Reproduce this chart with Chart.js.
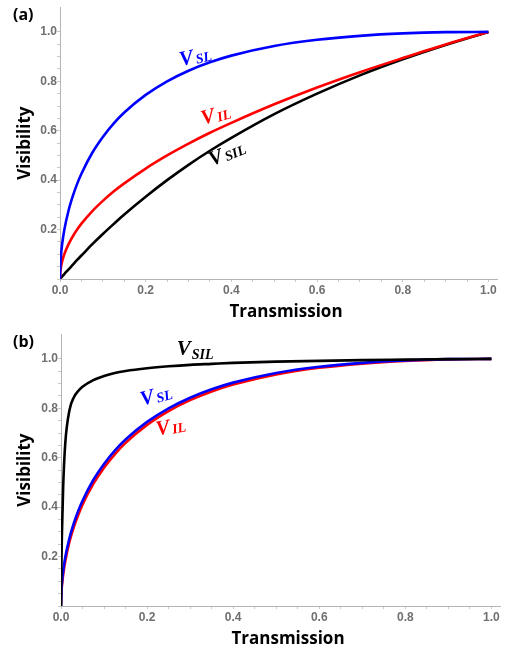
<!DOCTYPE html>
<html>
<head>
<meta charset="utf-8">
<script src="https://cdn.jsdelivr.net/npm/chart.js@4.4.1/dist/chart.umd.min.js"></script>
<style>
  body { margin: 0; background: #fff; }
  .panel { width: 516px; height: 327px; position: relative; }
</style>
</head>
<body>
<div class="panel"><canvas id="chartA"></canvas></div>
<div class="panel"><canvas id="chartB"></canvas></div>
<script>
// transmission samples (x) shared by all curves
const transmission = [0, 0.001, 0.002, 0.005, 0.01, 0.02, 0.03, 0.04, 0.05, 0.075, 0.1, 0.125, 0.15, 0.2, 0.25, 0.3, 0.35, 0.4, 0.5, 0.6, 0.7, 0.8, 0.9, 1.0];

// panel (a)
const visSL_a  = [0, 0.063, 0.089, 0.141, 0.198, 0.277, 0.336, 0.385, 0.426, 0.510, 0.575, 0.629, 0.674, 0.745, 0.800, 0.843, 0.877, 0.904, 0.943, 0.968, 0.984, 0.994, 0.999, 1.0];
const visIL_a  = [0, 0.032, 0.045, 0.071, 0.100, 0.141, 0.173, 0.200, 0.224, 0.274, 0.316, 0.354, 0.387, 0.447, 0.500, 0.548, 0.592, 0.632, 0.707, 0.775, 0.837, 0.894, 0.949, 1.0];
const visSIL_a = [0, 0.002, 0.004, 0.010, 0.020, 0.039, 0.058, 0.077, 0.095, 0.140, 0.182, 0.222, 0.261, 0.333, 0.400, 0.462, 0.519, 0.571, 0.667, 0.750, 0.824, 0.889, 0.947, 1.0];

// panel (b)
const visSL_b  = [0, 0.063, 0.089, 0.141, 0.198, 0.277, 0.336, 0.385, 0.426, 0.510, 0.575, 0.629, 0.674, 0.745, 0.800, 0.843, 0.877, 0.904, 0.943, 0.968, 0.984, 0.994, 0.999, 1.0];
const visIL_b  = [0, 0.055, 0.078, 0.126, 0.182, 0.262, 0.320, 0.368, 0.410, 0.494, 0.560, 0.614, 0.660, 0.733, 0.789, 0.833, 0.868, 0.896, 0.937, 0.964, 0.981, 0.992, 0.998, 1.0];
const visSIL_b = [0, 0.170, 0.280, 0.480, 0.660, 0.795, 0.845, 0.870, 0.887, 0.914, 0.931, 0.943, 0.951, 0.962, 0.970, 0.976, 0.980, 0.984, 0.989, 0.992, 0.995, 0.997, 0.999, 1.0];

// ticks
const xTickValues = [0, 0.05, 0.1, 0.15, 0.2, 0.25, 0.3, 0.35, 0.4, 0.45, 0.5, 0.55, 0.6, 0.65, 0.7, 0.75, 0.8, 0.85, 0.9, 0.95, 1.0];
const yTickValues = [0, 0.05, 0.1, 0.15, 0.2, 0.25, 0.3, 0.35, 0.4, 0.45, 0.5, 0.55, 0.6, 0.65, 0.7, 0.75, 0.8, 0.85, 0.9, 0.95, 1.0];
const xTickLabels = ["0.0", "0.2", "0.4", "0.6", "0.8", "1.0"];
const yTickLabels = ["0.2", "0.4", "0.6", "0.8", "1.0"];

function toPoints(ys) {
    return transmission.map((t, i) => ({ x: t, y: ys[i] }));
}

function line(label, ys, color) {
    return {
        label: label,
        data: toPoints(ys),
        borderColor: color,
        borderWidth: 2.6,
        pointRadius: 0,
        showLine: true,
        fill: false,
        cubicInterpolationMode: "monotone"
    };
}

function tickText(value, labels) {
    const s = value.toFixed(1);
    return (labels.includes(s) && Math.abs(value * 5 - Math.round(value * 5)) < 1e-6) ? s : "";
}

// draws panel letter, axis titles and the curve labels
const decorations = {
    id: "decorations",
    afterDraw(chart, args, opts) {
        const ctx = chart.ctx;
        const xs = chart.scales.x, ys = chart.scales.y;
        ctx.save();
        ctx.fillStyle = "#000";
        ctx.font = "bold 16px 'Open Sans'";
        ctx.textBaseline = "middle";
        ctx.textAlign = "left";
        ctx.fillText(opts.panel, 13, 15);

        ctx.font = "bold 17px 'Open Sans'";
        ctx.textAlign = "center";
        ctx.fillText("Transmission", opts.xTitle[0], opts.xTitle[1]);
        ctx.save();
        ctx.translate(25, (chart.chartArea.top + chart.chartArea.bottom) / 2);
        ctx.rotate(-Math.PI / 2);
        ctx.fillText("Visibility", 0, 0);
        ctx.restore();

        opts.curves.forEach(c => {
            ctx.save();
            ctx.translate(xs.getPixelForValue(c.x), ys.getPixelForValue(c.y));
            ctx.rotate(c.angle * Math.PI / 180);
            ctx.fillStyle = c.color;
            ctx.textAlign = "left";
            ctx.textBaseline = "alphabetic";
            ctx.font = "bold italic 21px 'Liberation Serif'";
            ctx.fillText("V", 0, 0);
            const w = ctx.measureText("V").width;
            ctx.font = "bold italic 14px 'Liberation Serif'";
            ctx.fillText(c.sub, w + c.gap, c.drop);
            ctx.restore();
        });
        ctx.restore();
    }
};

function makeChart(id, datasets, yWidth, rightPad, topPad, deco) {
    return new Chart(document.getElementById(id).getContext("2d"), {
        type: "scatter",
        data: { datasets: datasets },
        options: {
            responsive: true,
            maintainAspectRatio: false,
            animation: false,
            layout: { padding: { left: 0, right: rightPad, top: topPad, bottom: 0 } },
            plugins: {
                legend: { display: false },
                tooltip: { enabled: false },
                decorations: deco
            },
            scales: {
                x: {
                    type: "linear",
                    min: 0,
                    max: 1.02,
                    afterBuildTicks: s => { s.ticks = xTickValues.map(v => ({ value: v })); },
                    afterFit: s => { s.height = 48; },
                    border: { color: "#b4b4b4", width: 1 },
                    grid: { drawOnChartArea: false, tickLength: 3, tickColor: "#c8c8c8" },
                    ticks: {
                        autoSkip: false,
                        maxRotation: 0,
                        padding: 1,
                        color: "#707070",
                        font: { family: "'Liberation Sans'", size: 12, weight: "bold" },
                        callback: v => tickText(v, xTickLabels)
                    }
                },
                y: {
                    type: "linear",
                    min: 0,
                    max: 1.1,
                    afterBuildTicks: s => { s.ticks = yTickValues.map(v => ({ value: v })); },
                    afterFit: s => { s.width = yWidth; },
                    border: { color: "#b4b4b4", width: 1 },
                    grid: { drawOnChartArea: false, tickLength: 3, tickColor: "#c8c8c8" },
                    ticks: {
                        autoSkip: false,
                        padding: 0,
                        color: "#707070",
                        font: { family: "'Liberation Sans'", size: 12, weight: "bold" },
                        callback: v => tickText(v, yTickLabels)
                    }
                }
            }
        },
        plugins: [decorations]
    });
}

makeChart("chartA", [
    line("V_SL", visSL_a, "#0000ff"),
    line("V_IL", visIL_a, "#ff0000"),
    line("V_SIL", visSIL_a, "#000000")
], 60, 19, 4, {
    panel: "(a)",
    xTitle: [286, 312],
    curves: [
        { sub: "SL", x: 0.282, y: 0.862, angle: -12, color: "#0000ff", gap: 2, drop: 1 },
        { sub: "IL", x: 0.333, y: 0.624, angle: -15, color: "#ff0000", gap: 2, drop: 1 },
        { sub: "SIL", x: 0.354, y: 0.456, angle: -22, color: "#000000", gap: 2, drop: 1 }
    ]
});

makeChart("chartB", [
    line("V_SIL", visSIL_b, "#000000"),
    line("V_SL", visSL_b, "#0000ff"),
    line("V_IL", visIL_b, "#ff0000")
], 61, 16, 2, {
    panel: "(b)",
    xTitle: [288, 312],
    curves: [
        { sub: "SIL", x: 0.269, y: 1.016, angle: 0, color: "#000000", gap: 1, drop: 4 },
        { sub: "SL", x: 0.188, y: 0.81, angle: -15, color: "#0000ff", gap: 2, drop: 1 },
        { sub: "IL", x: 0.223, y: 0.69, angle: -10, color: "#ff0000", gap: 2, drop: 1 }
    ]
});
</script>
</body>
</html>
